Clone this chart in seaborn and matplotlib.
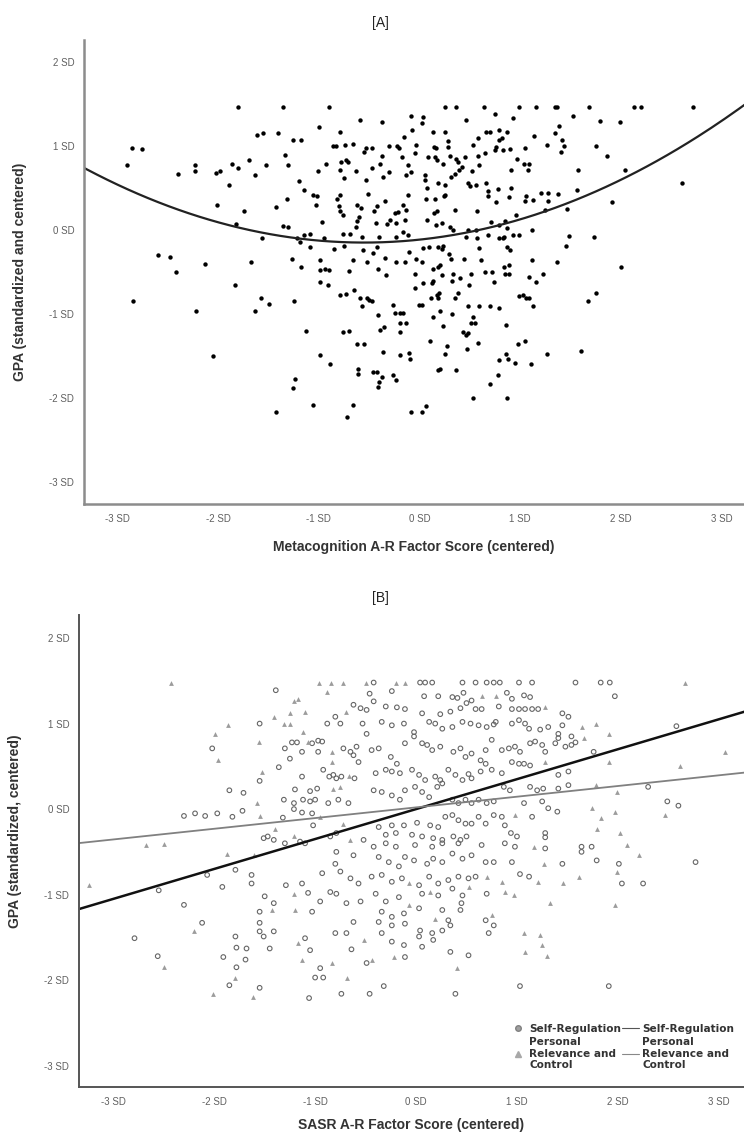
import matplotlib
matplotlib.use("Agg")
import matplotlib.pyplot as plt
from matplotlib.lines import Line2D
import seaborn as sns
import pandas as pd
import numpy as np

sns.set_style("white")
plt.rcParams['font.family'] = ['Liberation Sans', 'DejaVu Sans']

# ====================== DATA ======================
# [A] Metacognition A-R factor score vs GPA (SD units)
meta_pts = [
    (-1.80,1.46),(-1.36,1.46),(-0.90,1.46),(-0.59,1.31),(-0.37,1.28),(-0.08,1.36),(-1.00,1.22),(-0.79,1.16),
    (-1.61,1.13),(-1.55,1.15),(-1.40,1.15),(-1.26,1.07),(-1.18,1.07),(-0.86,1.00),(-0.83,1.00),(-0.74,1.01),
    (-0.66,1.02),(-0.53,0.98),(-0.47,0.97),(-0.55,0.93),(-0.30,1.00),(-0.22,1.00),(-0.20,0.97),(-0.15,1.11),
    (-0.07,1.19),(-0.04,1.01),(-2.85,0.98),(-2.75,0.96),(-2.90,0.77),(-2.40,0.67),(-2.23,0.77),(-2.23,0.70),
    (-2.02,0.68),(-1.98,0.70),(-1.86,0.78),(-1.80,0.74),(-1.69,0.83),(-1.52,0.77),(-1.63,0.65),(-1.34,0.89),
    (-1.31,0.77),(-1.01,0.70),(-0.93,0.78),(-0.78,0.81),(-0.73,0.83),(-0.71,0.81),(-0.79,0.71),(-0.75,0.62),
    (-0.63,0.70),(-0.53,0.60),(-0.47,0.74),(-0.37,0.88),(-0.39,0.79),(-0.36,0.63),(-0.30,0.69),(-0.17,0.87),
    (-0.11,0.77),(-0.08,0.69),(-0.13,0.65),(-0.05,0.91),(-1.89,0.54),(-1.20,0.58),(-1.15,0.48),(-1.06,0.42),
    (-1.02,0.40),(-1.03,0.30),(-0.82,0.37),(-0.79,0.41),(-0.80,0.28),(-0.79,0.23),(-0.76,0.18),(-0.62,0.30),
    (-0.58,0.26),(-0.51,0.43),(-0.42,0.28),(-0.45,0.22),(-0.34,0.34),(-0.24,0.20),(-0.21,0.21),(-0.16,0.30),
    (-0.13,0.24),(-0.11,0.42),(-2.01,0.30),(-1.74,0.22),(-1.42,0.27),(-1.32,0.37),(-0.97,0.09),(-0.60,0.16),
    (-0.62,0.11),(-0.63,0.04),(-0.43,0.08),(-0.32,0.07),(-0.29,0.12),(-0.23,0.08),(-0.14,0.12),(-1.82,0.07),
    (-1.36,0.05),(-1.31,0.03),(-1.56,-0.09),(-1.22,-0.10),(-1.15,-0.06),(-1.09,-0.05),(-0.95,-0.10),(-0.76,-0.05),
    (-0.69,-0.05),(-0.57,-0.08),(-0.40,-0.08),(-0.23,-0.08),(-0.16,-0.02),(-0.11,-0.06),(-1.19,-0.14),(-1.09,-0.20),
    (-0.85,-0.23),(-0.75,-0.19),(-0.66,-0.36),(-0.56,-0.24),(-0.42,-0.20),(-0.46,-0.28),(-0.34,-0.33),(-0.23,-0.38),
    (-0.14,-0.38),(-0.10,-0.26),(-0.04,-0.34),(-2.60,-0.30),(-2.48,-0.32),(-2.13,-0.40),(-1.67,-0.38),(-1.27,-0.35),
    (-0.99,-0.36),(-0.52,-0.38),
    (0.25,1.46),(0.36,1.46),(0.64,1.46),(0.99,1.46),(1.16,1.46),(1.34,1.46),(1.36,1.46),(1.68,1.46),
    (2.13,1.46),(2.20,1.46),(2.71,1.46),(0.03,1.34),(0.02,1.27),(0.46,1.31),(0.75,1.38),(0.93,1.33),
    (1.52,1.36),(1.79,1.30),(1.99,1.28),(1.38,1.24),(0.13,1.16),(0.25,1.16),(0.66,1.16),(0.70,1.16),
    (0.79,1.19),(0.87,1.16),(0.58,1.09),(0.79,1.07),(0.82,1.09),(1.14,1.12),(1.34,1.15),(1.41,1.07),
    (1.43,1.00),(1.26,1.01),(1.05,0.98),(0.14,0.99),(0.16,0.97),(0.28,1.06),(0.28,0.99),(0.53,1.01),
    (0.76,0.99),(0.75,0.95),(0.83,0.95),(0.90,0.96),(1.40,0.93),(1.75,1.00),(1.86,0.88),(0.08,0.87),
    (0.15,0.87),(0.17,0.83),(0.23,0.79),(0.30,0.88),(0.36,0.85),(0.38,0.81),(0.45,0.87),(0.42,0.75),
    (0.39,0.71),(0.35,0.67),(0.31,0.63),(0.58,0.88),(0.65,0.91),(0.59,0.77),(0.52,0.70),(0.97,0.85),
    (1.04,0.78),(1.09,0.79),(1.08,0.71),(0.91,0.71),(1.57,0.71),(2.04,0.71),(0.05,0.65),(0.05,0.60),
    (0.07,0.50),(0.18,0.56),(0.25,0.54),(0.48,0.56),(0.50,0.52),(0.56,0.54),(0.66,0.56),(0.68,0.46),
    (0.78,0.49),(0.91,0.50),(0.68,0.40),(0.76,0.33),(0.89,0.39),(1.06,0.40),(1.05,0.34),(1.13,0.36),
    (1.21,0.44),(1.27,0.44),(1.27,0.34),(1.37,0.43),(1.56,0.48),(1.46,0.25),(1.25,0.24),(1.91,0.33),
    (2.60,0.56),(0.06,0.37),(0.15,0.37),(0.25,0.42),(0.24,0.40),(0.35,0.24),(0.57,0.22),(0.14,0.20),
    (0.17,0.22),(0.07,0.12),(0.16,0.06),(0.22,0.08),(0.30,0.03),(0.33,0.00),(0.48,0.00),(0.56,0.00),
    (0.71,0.10),(0.79,0.06),(0.85,0.11),(0.96,0.18),(0.87,0.02),(0.46,-0.08),(0.57,-0.09),(0.68,-0.06),
    (0.79,-0.10),(0.83,-0.10),(0.84,-0.08),(0.93,-0.06),(0.99,-0.06),(1.12,0.00),(1.48,-0.07),(1.73,-0.08),
    (0.03,-0.21),(0.09,-0.20),(0.18,-0.20),(0.22,-0.23),(0.23,-0.19),(0.59,-0.21),(0.87,-0.20),(0.90,-0.24),
    (1.45,-0.19),(0.29,-0.29),(0.31,-0.34),(0.44,-0.35),(0.61,-0.36),(1.12,-0.36),(1.36,-0.38),(0.02,-0.38),
    (2.00,-0.44),
    (-2.42,-0.50),(-1.83,-0.65),(-1.18,-0.44),(-0.99,-0.48),(-0.94,-0.46),(-0.90,-0.48),(-0.70,-0.49),(-0.41,-0.46),
    (-0.33,-0.54),(-0.05,-0.52),(-0.99,-0.62),(-0.91,-0.65),(-0.79,-0.77),(-0.73,-0.76),(-0.65,-0.72),(-0.59,-0.81),
    (-0.52,-0.81),(-0.50,-0.83),(-0.47,-0.85),(-0.57,-0.91),(-0.05,-0.69),(-2.84,-0.85),(-2.22,-0.96),(-1.57,-0.81),
    (-1.49,-0.88),(-1.25,-0.85),(-1.63,-0.97),(-0.26,-0.89),(-0.24,-0.99),(-0.19,-0.99),(-0.16,-0.99),(-0.41,-1.01),
    (-0.01,-0.89),(-1.13,-1.20),(-0.76,-1.21),(-0.70,-1.20),(-0.39,-1.19),(-0.35,-1.15),(-0.19,-1.11),(-0.13,-1.11),
    (-0.19,-1.22),(-0.62,-1.36),(-0.55,-1.36),(-0.36,-1.45),(-0.19,-1.49),(-0.10,-1.46),(-0.09,-1.53),(-2.05,-1.50),
    (-0.99,-1.49),(-0.89,-1.60),(-0.61,-1.65),(-0.61,-1.71),(-0.46,-1.69),(-0.42,-1.69),(-0.37,-1.75),(-0.40,-1.81),
    (-0.41,-1.87),(-0.26,-1.73),(-0.23,-1.79),(-1.24,-1.77),(-1.26,-1.88),(-1.06,-2.08),(-0.66,-2.08),(-1.42,-2.17),
    (-0.72,-2.23),(-0.08,-2.16),
    (0.20,-0.42),(0.89,-0.42),(0.13,-0.46),(0.18,-0.44),(0.22,-0.54),(0.33,-0.52),(0.51,-0.52),(0.65,-0.50),
    (0.72,-0.50),(0.84,-0.44),(0.85,-0.52),(0.89,-0.52),(1.09,-0.56),(1.23,-0.53),(0.03,-0.63),(0.12,-0.63),
    (0.13,-0.61),(0.32,-0.61),(0.40,-0.57),(0.49,-0.66),(0.74,-0.62),(1.16,-0.62),(1.75,-0.75),(1.67,-0.85),
    (0.02,-0.89),(0.11,-0.81),(0.17,-0.77),(0.18,-0.81),(0.19,-0.75),(0.35,-0.81),(0.38,-0.75),(0.48,-0.91),
    (0.59,-0.91),(0.70,-0.91),(0.79,-0.93),(0.99,-0.79),(1.03,-0.77),(1.06,-0.81),(1.09,-0.81),(1.13,-0.90),
    (0.20,-0.96),(0.13,-1.03),(0.32,-1.00),(0.53,-1.03),(0.51,-1.11),(0.55,-1.11),(0.23,-1.14),(0.86,-1.13),
    (0.43,-1.21),(0.46,-1.25),(0.48,-1.23),(0.10,-1.32),(0.27,-1.38),(0.25,-1.48),(0.47,-1.42),(0.58,-1.35),
    (0.98,-1.36),(1.05,-1.32),(1.26,-1.47),(1.60,-1.44),(0.86,-1.47),(0.88,-1.53),(0.79,-1.55),(0.95,-1.58),
    (1.11,-1.60),(0.18,-1.67),(0.20,-1.65),(0.36,-1.67),(0.78,-1.73),(0.70,-1.83),(0.53,-2.00),(0.87,-2.00),
    (0.06,-2.10),(0.02,-2.16),
]
# quadratic fit line of panel A: y = a * (x - h)^2 + k
meta_fit_a, meta_fit_h, meta_fit_k = 0.115, -0.55, -0.15

# [B] SASR A-R factor scores vs GPA, two factors
sr_pts = [
    (-1.39,1.39),(-0.46,1.35),(-0.62,1.22),(-0.55,1.18),(-0.49,1.16),(-0.80,1.08),(-0.75,1.00),(-0.88,1.00),
    (-0.53,1.00),(-0.49,0.88),(-1.55,1.00),(-2.02,0.71),(-1.30,0.71),(-1.23,0.78),(-1.18,0.78),(-1.13,0.67),
    (-1.03,0.77),(-0.97,0.80),(-0.93,0.79),(-1.25,0.59),(-0.97,0.67),(-0.72,0.71),(-0.65,0.67),(-0.62,0.63),
    (-0.59,0.73),(-0.57,0.55),(-1.36,0.49),(-1.55,0.33),(-1.13,0.38),(-0.92,0.46),(-0.86,0.38),(-0.82,0.40),
    (-0.79,0.36),(-0.74,0.38),(-0.61,0.36),(-1.20,0.23),(-1.05,0.21),(-0.98,0.24),(-1.85,0.22),(-1.71,0.19),
    (-1.31,0.11),(-1.21,0.07),(-1.12,0.11),(-1.05,0.09),(-1.00,0.11),(-0.87,0.07),(-0.77,0.11),(-0.67,0.07),
    (-2.30,-0.08),(-2.19,-0.05),(-2.09,-0.08),(-1.97,-0.05),(-1.82,-0.09),(-1.72,-0.02),(-1.32,-0.10),(-1.21,0.00),
    (-1.13,-0.04),(-1.03,-0.05),(-1.02,-0.19),(-1.51,-0.34),(-1.47,-0.32),(-1.41,-0.36),(-1.30,-0.40),(-1.15,-0.38),
    (-1.10,-0.40),(-0.85,-0.32),(-0.79,-0.28),(-0.52,-0.36),
    (-0.42,1.48),(0.04,1.48),(0.09,1.48),(0.16,1.48),(0.46,1.48),(0.59,1.48),(0.70,1.48),(0.77,1.48),
    (0.83,1.48),(1.02,1.48),(1.15,1.48),(1.58,1.48),(1.83,1.48),(1.92,1.48),
    (-0.24,1.38),(0.08,1.32),(0.22,1.32),(0.36,1.31),(0.41,1.30),(0.47,1.36),(0.90,1.36),(0.95,1.29),
    (1.07,1.33),(1.13,1.31),(1.97,1.32),(-0.42,1.26),(-0.30,1.20),(-0.19,1.19),(-0.11,1.17),(0.06,1.12),
    (0.24,1.11),(0.34,1.14),(0.44,1.18),(0.50,1.24),(0.55,1.27),(0.59,1.17),(0.65,1.17),(0.82,1.20),
    (0.95,1.17),(1.02,1.17),(1.08,1.17),(1.15,1.17),(1.21,1.17),(1.45,1.12),(1.51,1.08),(-0.34,1.02),
    (-0.24,0.98),(-0.12,1.00),(-0.02,0.90),(0.13,1.02),(0.19,1.00),(0.26,0.94),(0.36,0.96),(0.46,1.02),
    (0.54,1.00),(0.62,0.98),(0.70,0.96),(0.77,0.99),(0.79,1.02),(0.95,1.00),(1.02,1.04),(1.08,1.00),
    (1.12,0.94),(1.23,0.93),(1.31,0.96),(1.41,0.88),(1.45,0.98),(1.54,0.85),(1.58,0.78),(2.58,0.97),
    (-0.44,0.69),(-0.37,0.71),(-0.25,0.61),(-0.19,0.53),(-0.11,0.77),(-0.02,0.85),(0.06,0.77),(0.11,0.75),
    (0.16,0.69),(0.24,0.73),(0.37,0.67),(0.44,0.71),(0.49,0.61),(0.55,0.65),(0.64,0.57),(0.69,0.69),
    (0.75,0.81),(0.85,0.69),(0.92,0.71),(0.98,0.73),(1.03,0.67),(1.13,0.77),(1.18,0.79),(1.25,0.75),
    (1.28,0.67),(1.38,0.77),(1.41,0.83),(1.48,0.73),(1.54,0.75),(1.76,0.67),
    (-0.40,0.42),(-0.30,0.46),(-0.24,0.44),(-0.16,0.42),(-0.04,0.46),(0.03,0.40),(0.09,0.34),(0.19,0.38),
    (0.24,0.34),(0.32,0.46),(0.39,0.40),(0.46,0.34),(0.52,0.41),(0.55,0.36),(0.64,0.44),(0.69,0.53),
    (0.75,0.46),(0.85,0.42),(0.95,0.55),(1.02,0.53),(1.07,0.53),(1.13,0.51),(1.41,0.40),(1.51,0.44),
    (0.87,0.26),(0.93,0.22),(1.13,0.26),(1.20,0.22),(1.26,0.24),(1.41,0.24),(1.51,0.28),(2.30,0.26),
    (-0.42,0.22),(-0.34,0.20),(-0.24,0.16),(-0.16,0.11),(-0.11,0.22),(-0.01,0.26),(0.06,0.20),(0.13,0.14),
    (0.21,0.26),(0.26,0.30),(0.36,0.11),(0.42,0.07),(0.49,0.11),(0.55,0.07),(0.62,0.11),(0.70,0.07),
    (0.77,0.09),(1.07,0.07),(1.25,0.09),(1.31,0.01),(1.40,-0.03),(2.49,0.09),(2.60,0.04),
    (-0.37,-0.21),(-0.24,-0.19),(-0.12,-0.19),(0.01,-0.16),(0.14,-0.19),(0.22,-0.21),(0.29,-0.09),(0.36,-0.07),
    (0.42,-0.13),(0.49,-0.17),(0.55,-0.17),(0.62,-0.09),(0.69,-0.17),(0.77,-0.07),(0.85,-0.09),(0.88,-0.19),
    (0.94,-0.28),(1.00,-0.32),(1.15,-0.09),(1.28,-0.28),(-0.30,-0.30),(-0.20,-0.28),(-0.04,-0.30),(0.06,-0.32),
    (0.17,-0.34),(0.26,-0.36),(0.37,-0.32),(0.44,-0.36),(0.50,-0.32),(1.28,-0.33),(-0.42,-0.44),(-0.30,-0.40),
    (-0.20,-0.44),(-0.01,-0.42),(0.16,-0.44),(0.26,-0.40),(0.42,-0.40),(0.65,-0.42),(0.88,-0.40),(0.98,-0.44),
    (1.28,-0.46),(1.64,-0.44),(1.74,-0.44),
    (-2.55,-0.95),(-2.30,-1.12),(-2.12,-1.33),(-2.79,-1.51),(-2.56,-1.72),(-2.07,-0.77),(-1.79,-0.71),(-1.92,-0.91),
    (-1.63,-0.77),(-1.63,-0.87),(-1.79,-1.49),(-1.78,-1.62),(-1.68,-1.63),(-1.91,-1.73),(-1.69,-1.76),(-1.78,-1.85),
    (-1.85,-2.06),(-1.55,-2.09),(-1.50,-1.02),(-1.55,-1.20),(-1.55,-1.33),(-1.55,-1.43),(-1.41,-1.10),(-1.45,-1.63),
    (-1.41,-1.43),(-1.51,-1.49),(-1.29,-0.89),(-1.13,-0.87),(-1.03,-1.20),(-1.07,-0.98),(-0.95,-1.08),(-1.10,-1.51),
    (-1.05,-1.65),(-1.06,-2.21),(-0.95,-1.86),(-1.00,-1.97),(-0.92,-1.97),(-0.74,-2.16),(-0.93,-0.75),(-0.80,-0.64),
    (-0.75,-0.73),(-0.65,-0.81),(-0.57,-0.87),(-0.79,-0.99),(-0.85,-0.97),(-0.69,-1.10),(-0.55,-1.08),(-0.80,-1.45),
    (-0.69,-1.45),(-0.64,-1.64),(-0.62,-1.32),(-0.46,-2.16),(-0.49,-1.80),(-0.79,-0.50),(-0.62,-0.54),
    (-0.37,-0.56),(-0.27,-0.62),(-0.17,-0.67),(-0.11,-0.56),(-0.02,-0.60),(0.11,-0.64),(0.17,-0.58),(0.26,-0.62),
    (0.36,-0.52),(0.46,-0.58),(0.55,-0.54),(0.69,-0.62),(0.77,-0.62),(0.95,-0.62),(1.45,-0.64),(1.64,-0.50),
    (1.79,-0.60),(2.01,-0.64),(2.77,-0.62),(-0.44,-0.79),(-0.34,-0.77),(-0.24,-0.85),(-0.14,-0.81),(0.03,-0.89),
    (0.13,-0.79),(0.22,-0.87),(0.32,-0.83),(0.42,-0.79),(0.52,-0.81),(0.59,-0.79),(1.03,-0.76),(1.12,-0.79),
    (2.04,-0.87),(2.25,-0.87),(-0.40,-0.99),(-0.30,-1.08),(-0.17,-1.03),(0.06,-0.99),(0.22,-1.01),(0.36,-0.93),
    (0.46,-1.01),(0.70,-0.99),(-0.34,-1.20),(-0.24,-1.26),(-0.12,-1.22),(0.03,-1.16),(0.26,-1.18),(0.32,-1.30),
    (0.44,-1.18),(0.45,-1.10),(-0.37,-1.32),(-0.24,-1.36),(-0.11,-1.34),(0.04,-1.42),(0.16,-1.45),(0.26,-1.42),
    (0.34,-1.36),(0.69,-1.30),(0.72,-1.45),(0.77,-1.36),(-0.34,-1.45),(-0.24,-1.55),(-0.12,-1.59),(-0.11,-1.73),
    (0.03,-1.49),(0.06,-1.61),(0.17,-1.53),(0.34,-1.67),(0.52,-1.71),(-0.32,-2.07),(1.03,-2.07),(1.91,-2.07),
    (0.39,-2.16),
]
prc_pts = [
    (-2.43,1.48),(-0.96,1.48),(-0.84,1.48),(-0.72,1.48),(-0.50,1.48),(-1.21,1.26),(-1.17,1.29),(-0.88,1.37),
    (-1.41,1.08),(-1.25,1.12),(-1.10,1.14),(-0.69,1.13),(-1.86,0.98),(-1.56,0.79),(-1.99,0.88),(-1.96,0.57),
    (-1.31,1.00),(-1.25,1.00),(-1.12,0.90),(-1.07,0.79),(-0.83,0.67),(-0.83,0.55),(-1.53,0.43),(-0.66,0.39),
    (-0.82,0.24),(-0.75,0.26),(-1.58,0.07),(-1.55,-0.08),(-0.95,-0.09),(-0.72,-0.17),(-1.40,-0.23),(-2.68,-0.42),
    (-2.50,-0.41),(-1.21,-0.32),(-0.65,-0.36),
    (-0.20,1.48),(-0.11,1.48),(2.67,1.48),(0.65,1.32),(0.79,1.32),(1.28,1.19),(1.64,0.96),(1.91,0.88),
    (1.78,1.00),(1.66,0.83),(1.91,0.55),(3.06,0.67),(2.62,0.50),(1.28,0.55),(1.78,0.28),(1.99,0.20),
    (1.74,0.01),(1.83,-0.10),(2.47,-0.07),(1.97,-0.03),(0.98,-0.07),(1.79,-0.23),(2.02,-0.28),(2.09,-0.42),
    (1.17,-0.44),
    (-3.24,-0.89),(-2.20,-1.42),(-2.50,-1.85),(-1.79,-1.97),(-2.01,-2.16),(-1.62,-2.20),(-1.43,-1.18),(-1.21,-0.99),
    (-1.20,-1.18),(-1.17,-1.57),(-1.13,-1.77),(-0.83,-1.80),(-0.68,-1.97),(-0.52,-1.53),(-1.87,-0.52),(-1.61,-0.54),
    (1.27,-0.64),(1.99,-0.74),(2.21,-0.54),(-0.07,-0.87),(0.70,-0.79),(0.85,-0.85),(1.21,-0.85),(1.46,-0.87),
    (1.61,-0.79),(-0.07,-1.12),(0.14,-0.97),(0.52,-0.91),(0.88,-0.97),(0.97,-1.01),(1.33,-1.10),(1.97,-1.12),
    (0.19,-1.28),(0.75,-1.24),(1.07,-1.45),(1.23,-1.47),(1.25,-1.59),(1.08,-1.67),(1.30,-1.72),(0.41,-1.86),
    (-0.22,-1.73),(-0.44,-1.77),
]
# linear fit lines of panel B: (slope, intercept)
sr_fit = (0.35, 0.0)
prc_fit = (0.125, 0.02)

x_ticks = [-3, -2, -1, 0, 1, 2, 3]
y_ticks = [-3, -2, -1, 0, 1, 2]

df_meta = pd.DataFrame(meta_pts, columns=['score', 'gpa'])
df_sr = pd.DataFrame(sr_pts, columns=['score', 'gpa'])
df_prc = pd.DataFrame(prc_pts, columns=['score', 'gpa'])

# ====================== PLOT ======================
fig = plt.figure(figsize=(7.44, 11.33), dpi=100)
ax1 = fig.add_axes([0.1129, 0.5552, 0.8871, 0.4095])
ax2 = fig.add_axes([0.1062, 0.0406, 0.8938, 0.4166])

tick_col = '#606060'


def style_axis(ax, xlim, ylim, spine_col, spine_w):
    ax.set_xticks(x_ticks)
    ax.set_xticklabels([f'{t} SD' for t in x_ticks])
    ax.set_yticks(y_ticks)
    ax.set_yticklabels([f'{t} SD' for t in y_ticks])
    # limits after ticks, otherwise the ticks widen the view
    ax.set_xlim(*xlim)
    ax.set_ylim(*ylim)
    for s in ['top', 'right']:
        ax.spines[s].set_visible(False)
    for s in ['left', 'bottom']:
        ax.spines[s].set_color(spine_col)
        ax.spines[s].set_linewidth(spine_w)
    ax.tick_params(axis='both', direction='out', length=5, width=1, color=spine_col,
                   labelsize=7, labelcolor=tick_col, pad=2)


# ---- [A]
sns.scatterplot(data=df_meta, x='score', y='gpa', ax=ax1, color='black', s=10,
                linewidth=0, marker='o', legend=False)
xa = np.linspace(-3.4, 3.3, 200)
sns.lineplot(x=xa, y=meta_fit_a * (xa - meta_fit_h) ** 2 + meta_fit_k, ax=ax1,
             color='#222222', linewidth=1.6)
style_axis(ax1, (-3.33, 3.22), (-3.26, 2.26), '#8c8c8c', 1.8)
ax1.set_xlabel('Metacognition A-R Factor Score (centered)', fontsize=10, fontweight='bold',
               color='#333333', labelpad=12)
ax1.set_ylabel('GPA (standardized and centered)', fontsize=10, fontweight='bold', color='#333333')
ax1.yaxis.set_label_coords(-0.086, 0.5)

# ---- [B]
sns.scatterplot(data=df_sr, x='score', y='gpa', ax=ax2, marker='o', s=11,
                facecolor='none', edgecolor='#666666', linewidth=0.8, legend=False)
sns.scatterplot(data=df_prc, x='score', y='gpa', ax=ax2, marker='^', s=12,
                color='#9c9c9c', linewidth=0, legend=False)
xb = np.linspace(-3.4, 3.3, 2)
sns.lineplot(x=xb, y=sr_fit[0] * xb + sr_fit[1], ax=ax2, color='#111111', linewidth=1.8)
sns.lineplot(x=xb, y=prc_fit[0] * xb + prc_fit[1], ax=ax2, color='#808080', linewidth=1.3)
style_axis(ax2, (-3.34, 3.25), (-3.25, 2.27), '#555555', 1.4)
ax2.set_xlabel('SASR A-R Factor Score (centered)', fontsize=10, fontweight='bold',
               color='#333333', labelpad=8)
ax2.set_ylabel('GPA (standardized, centered)', fontsize=10, fontweight='bold', color='#333333')
ax2.yaxis.set_label_coords(-0.086, 0.542)

prc_label = 'Personal\nRelevance and\nControl'
handles = [
    Line2D([], [], marker='o', linestyle='none', markersize=4, markerfacecolor='#a0a0a0',
           markeredgecolor='#808080'),
    Line2D([], [], marker='^', linestyle='none', markersize=4, color='#a8a8a8'),
    Line2D([], [], color='#555555', linewidth=0.8),
    Line2D([], [], color='#888888', linewidth=0.8),
]
leg = ax2.legend(handles=handles, labels=['Self-Regulation', prc_label, 'Self-Regulation', prc_label],
                 ncol=2, loc='lower right', bbox_to_anchor=(1.0, 0.015), frameon=False,
                 prop={'family': 'DejaVu Sans', 'size': 7.6, 'weight': 'bold'},
                 handlelength=1.6, handletextpad=0.3, columnspacing=0.1, labelspacing=0.35)
for t in leg.get_texts():
    t.set_color('#333333')

fig.text(0.511, 0.980, '[A]', ha='center', va='center', fontsize=10, color='#222222')
fig.text(0.511, 0.472, '[B]', ha='center', va='center', fontsize=10, color='#222222')

plt.savefig('out.png', dpi=100)
